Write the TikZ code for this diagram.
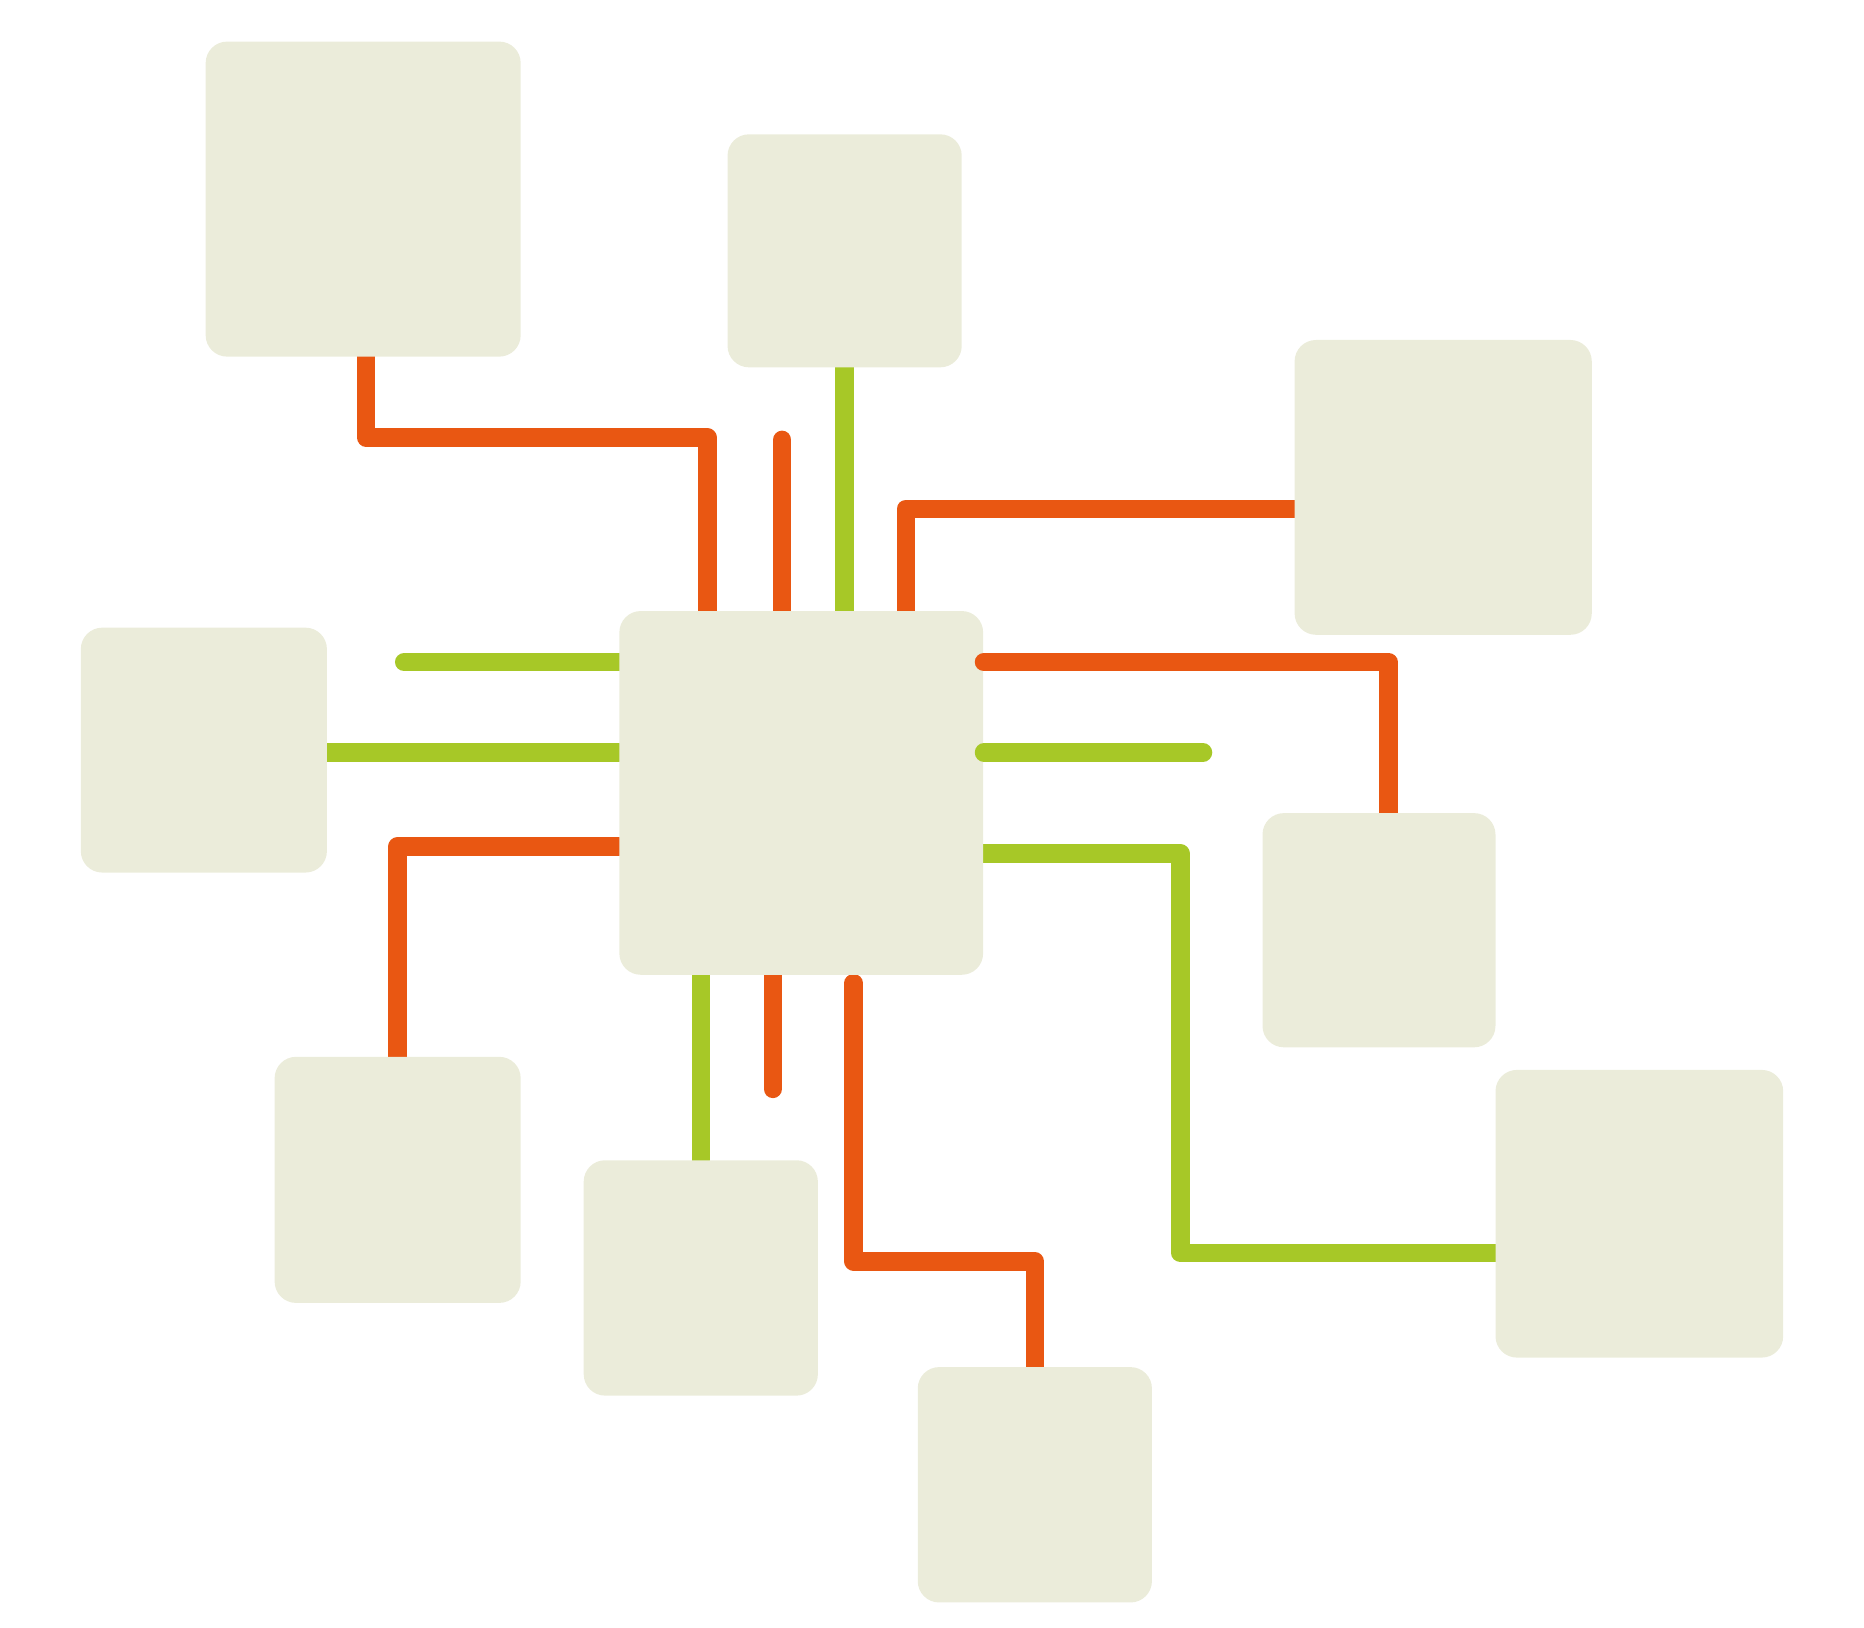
\documentclass[tikz,border=0pt]{standalone}
\usepackage{tikz}
\usetikzlibrary{positioning, calc, backgrounds}
\definecolor{hubbox}{RGB}{235,236,218}
\definecolor{linkorange}{RGB}{233,87,18}
\definecolor{linkgreen}{RGB}{167,200,39}
\pgfdeclarelayer{front}
\pgfsetlayers{background,main,front}

\begin{document}
\begin{tikzpicture}[
        box/.style={rectangle, fill=hubbox, draw=none, rounded corners=0.18cm, inner sep=0pt},
        olink/.style={draw=linkorange, line width=0.155cm, line cap=round, line join=round},
        glink/.style={draw=linkgreen, line width=0.155cm, line cap=round, line join=round}
    ]
        \useasboundingbox (0,0) rectangle (15.68,-13.69);

        % Boxes
        \node[box, minimum width=3.06cm, minimum height=3.06cm] (ctr) at (6.74,-6.67) {};
        \node[box, minimum width=2.65cm, minimum height=2.65cm] (tl) at (3.055,-1.675) {};
        \node[box, minimum width=1.97cm, minimum height=1.96cm] (tm) at (7.105,-2.11) {};
        \node[box, minimum width=2.50cm, minimum height=2.48cm] (tr) at (12.14,-4.10) {};
        \node[box, minimum width=2.07cm, minimum height=2.06cm] (lf) at (1.715,-6.31) {};
        \node[box, minimum width=2.07cm, minimum height=2.07cm] (bl) at (3.345,-9.925) {};
        \node[box, minimum width=1.97cm, minimum height=1.98cm] (bm) at (5.895,-10.75) {};
        \node[box, minimum width=1.97cm, minimum height=1.98cm] (bt) at (8.705,-12.49) {};
        \node[box, minimum width=2.42cm, minimum height=2.42cm] (br) at (13.79,-10.21) {};
        \begin{pgfonlayer}{front}
            \node[box, minimum width=1.96cm, minimum height=1.97cm] (rm) at (11.60,-7.825) {};
        \end{pgfonlayer}

        % Free ends
        \coordinate (topfree) at (6.58,-3.70);
        \coordinate (leftfree) at (3.40,-5.57);
        \coordinate (rightfree) at (10.12,-6.33);
        \coordinate (botfree) at (6.50,-9.16);
        \coordinate (botstart) at (7.18,-8.27);

        % Connectors behind the boxes
        \begin{scope}[on background layer]
            \draw[olink] (tl.south -| 3.08,0) |- (5.95,-3.68) -- (5.95,0 |- ctr.north);
            \draw[olink] (topfree) -- (topfree |- ctr.north);
            \draw[glink] (tm.south) -- (tm.south |- ctr.north);
            \draw[olink] (7.62,0 |- ctr.north) |- (tr.west |- 0,-4.28);
            \draw[glink] (leftfree) -- (leftfree -| ctr.west);
            \draw[glink] (lf.east |- 0,-6.33) -- (ctr.west |- 0,-6.33);
            \draw[olink] (ctr.west |- 0,-7.12) -| (bl.north);
            \draw[glink] (ctr.east |- 0,-7.18) -| (9.93,-10.54) -- (br.west |- 0,-10.54);
            \draw[glink] (bm.north |- ctr.south) -- (bm.north);
            \draw[olink] (botfree |- ctr.south) -- (botfree);
            \draw[olink] (botstart) |- (bt.north |- 0,-10.61) -- (bt.north);
        \end{scope}

        % Connectors over the hub
        \draw[olink] (ctr.east |- 0,-5.57) -| (rm.north -| 11.68,0);
        \draw[glink] (ctr.east |- 0,-6.33) -- (rightfree);
    \end{tikzpicture}
\end{document}
